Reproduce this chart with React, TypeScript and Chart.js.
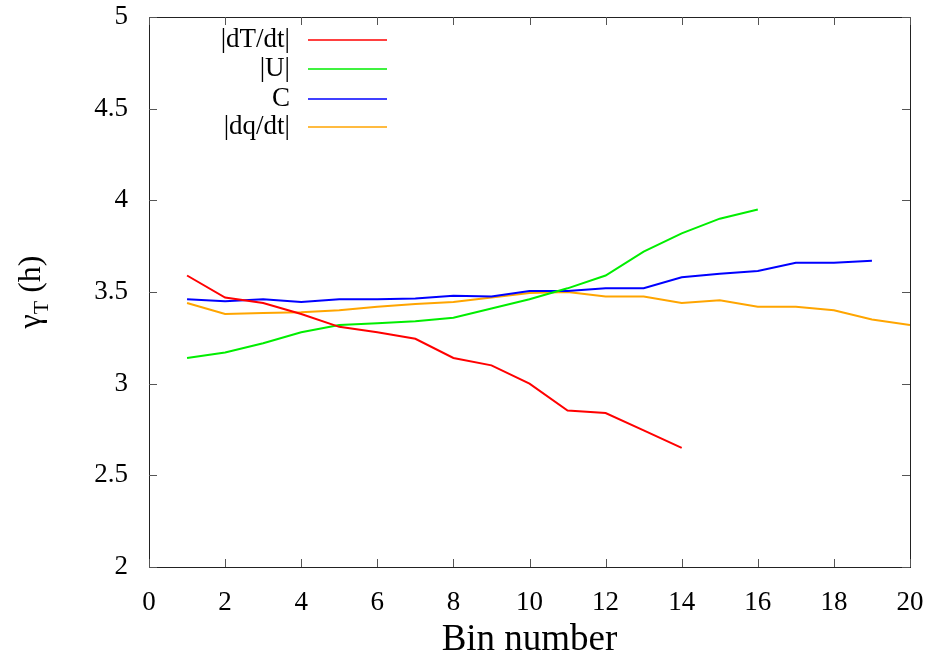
import React, { useEffect, useRef } from "react";
import { Chart, registerables } from "chart.js";

Chart.register(...registerables);

const redBins = [1, 2, 3, 4, 5, 6, 7, 8, 9, 10, 11, 12, 13, 14];
const redVals = [3.59, 3.47, 3.44, 3.38, 3.31, 3.28, 3.245, 3.14, 3.1, 3.0, 2.853, 2.84, 2.745, 2.65];
const greenBins = [1, 2, 3, 4, 5, 6, 7, 8, 9, 10, 11, 12, 13, 14, 15, 16];
const greenVals = [3.14, 3.17, 3.22, 3.28, 3.32, 3.33, 3.34, 3.36, 3.41, 3.46, 3.52, 3.59, 3.72, 3.82, 3.9, 3.95];
const blueBins = [1, 2, 3, 4, 5, 6, 7, 8, 9, 10, 11, 12, 13, 14, 15, 16, 17, 18, 19];
const blueVals = [3.46, 3.45, 3.46, 3.445, 3.46, 3.46, 3.465, 3.48, 3.475, 3.505, 3.505, 3.52, 3.52, 3.58, 3.6, 3.615, 3.66, 3.66, 3.67];
const orangeBins = [1, 2, 3, 4, 5, 6, 7, 8, 9, 10, 11, 12, 13, 14, 15, 16, 17, 18, 19, 20];
const orangeVals = [3.44, 3.38, 3.385, 3.39, 3.4, 3.42, 3.435, 3.445, 3.47, 3.495, 3.5, 3.475, 3.475, 3.44, 3.455, 3.42, 3.42, 3.4, 3.35, 3.32];

const seriesNames = ["|dT/dt|", "|U|", "C", "|dq/dt|"];
const seriesColors = ["#ff0000", "#00ee00", "#0000ff", "#ffa500"];

const xTitle = "Bin number";
const yTitleMain = "γ";
const yTitleSub = "T";
const yTitleRest = " (h)";

const FONT = "'Liberation Serif', 'DejaVu Serif', serif";

const toPoints = (xs: number[], ys: number[]) => xs.map((x, i) => ({ x, y: ys[i] }));

const framePlugin = {
  id: "frame",
  afterDraw(chart: any) {
    const { ctx, chartArea: a, scales } = chart;
    const xs = scales.x;
    const ys = scales.y;
    ctx.save();
    ctx.strokeStyle = "#222";
    ctx.lineWidth = 1;
    ctx.strokeRect(Math.round(a.left) + 0.5, Math.round(a.top) + 0.5, Math.round(a.right - a.left), Math.round(a.bottom - a.top));
    const tl = 8;
    ctx.strokeStyle = "#555";
    ctx.beginPath();
    xs.ticks.forEach((t: any) => {
      const px = Math.round(xs.getPixelForValue(t.value)) + 0.5;
      ctx.moveTo(px, a.bottom);
      ctx.lineTo(px, a.bottom - tl);
      ctx.moveTo(px, a.top);
      ctx.lineTo(px, a.top + tl);
    });
    ys.ticks.forEach((t: any) => {
      const py = Math.round(ys.getPixelForValue(t.value)) + 0.5;
      ctx.moveTo(a.left, py);
      ctx.lineTo(a.left + tl, py);
      ctx.moveTo(a.right, py);
      ctx.lineTo(a.right - tl, py);
    });
    ctx.stroke();

    // legend
    ctx.font = `27px ${FONT}`;
    ctx.fillStyle = "#000";
    ctx.textAlign = "right";
    ctx.textBaseline = "middle";
    const legY = [40, 69, 99, 127];
    seriesNames.forEach((n, i) => {
      ctx.fillText(n, 290, legY[i]);
      ctx.strokeStyle = seriesColors[i];
      ctx.lineWidth = 1.5;
      ctx.beginPath();
      ctx.moveTo(308, legY[i]);
      ctx.lineTo(387, legY[i]);
      ctx.stroke();
    });

    // x title
    ctx.font = `37px ${FONT}`;
    ctx.textAlign = "center";
    ctx.textBaseline = "alphabetic";
    ctx.fillText(xTitle, (a.left + a.right) / 2, 650);

    // y title (rotated, with subscript)
    ctx.save();
    ctx.translate(40, 292);
    ctx.rotate(-Math.PI / 2);
    const mainF = `32px ${FONT}`;
    const subF = `22px ${FONT}`;
    ctx.font = mainF;
    const w1 = ctx.measureText(yTitleMain).width;
    const w3 = ctx.measureText(yTitleRest).width;
    ctx.font = subF;
    const w2 = ctx.measureText(yTitleSub).width;
    let x0 = -(w1 + w2 + w3) / 2;
    ctx.textAlign = "left";
    ctx.font = mainF;
    ctx.fillText(yTitleMain, x0, 0);
    x0 += w1;
    ctx.font = subF;
    ctx.fillText(yTitleSub, x0, 8);
    x0 += w2;
    ctx.font = mainF;
    ctx.fillText(yTitleRest, x0, 0);
    ctx.restore();

    ctx.restore();
  },
};

const zeroPad = (s: any) => {
  s.paddingTop = 0;
  s.paddingBottom = 0;
  s.paddingLeft = 0;
  s.paddingRight = 0;
};

export default function App() {
  const ref = useRef<HTMLCanvasElement>(null);
  useEffect(() => {
    if (!ref.current) return;
    const mk = (i: number, xs: number[], ys: number[]) => ({
      label: seriesNames[i],
      data: toPoints(xs, ys),
      borderColor: seriesColors[i],
      backgroundColor: seriesColors[i],
      borderWidth: 2,
      pointRadius: 0,
      tension: 0,
      fill: false,
    });
    const chart = new Chart(ref.current, {
      type: "line",
      data: {
        datasets: [
          mk(0, redBins, redVals),
          mk(1, greenBins, greenVals),
          mk(2, blueBins, blueVals),
          mk(3, orangeBins, orangeVals),
        ],
      },
      options: {
        animation: false,
        responsive: false,
        maintainAspectRatio: false,
        layout: { padding: { top: 17, right: 22, left: 0, bottom: 0 } },
        plugins: { legend: { display: false }, tooltip: { enabled: false } },
        scales: {
          x: {
            type: "linear",
            min: 0,
            max: 20,
            ticks: { stepSize: 2, color: "#000", font: { family: FONT, size: 27 }, padding: 20, maxRotation: 0, callback: (v: any) => String(+v) },
            grid: { display: false, drawTicks: false },
            border: { display: false },
            afterFit: (s: any) => { s.height = 89; zeroPad(s); },
          },
          y: {
            type: "linear",
            min: 2,
            max: 5,
            ticks: { stepSize: 0.5, color: "#000", font: { family: FONT, size: 27 }, padding: 21, callback: (v: any) => String(+v) },
            grid: { display: false, drawTicks: false },
            border: { display: false },
            afterFit: (s: any) => { s.width = 149; zeroPad(s); },
          },
        },
      },
      plugins: [framePlugin],
    } as any);
    return () => chart.destroy();
  }, []);
  return (
    <div style={{ position: "absolute", left: 0, top: 0, width: 932, height: 656, background: "#fff" }}>
      <canvas ref={ref} width={932} height={656} style={{ width: 932, height: 656, display: "block" }} />
    </div>
  );
}
